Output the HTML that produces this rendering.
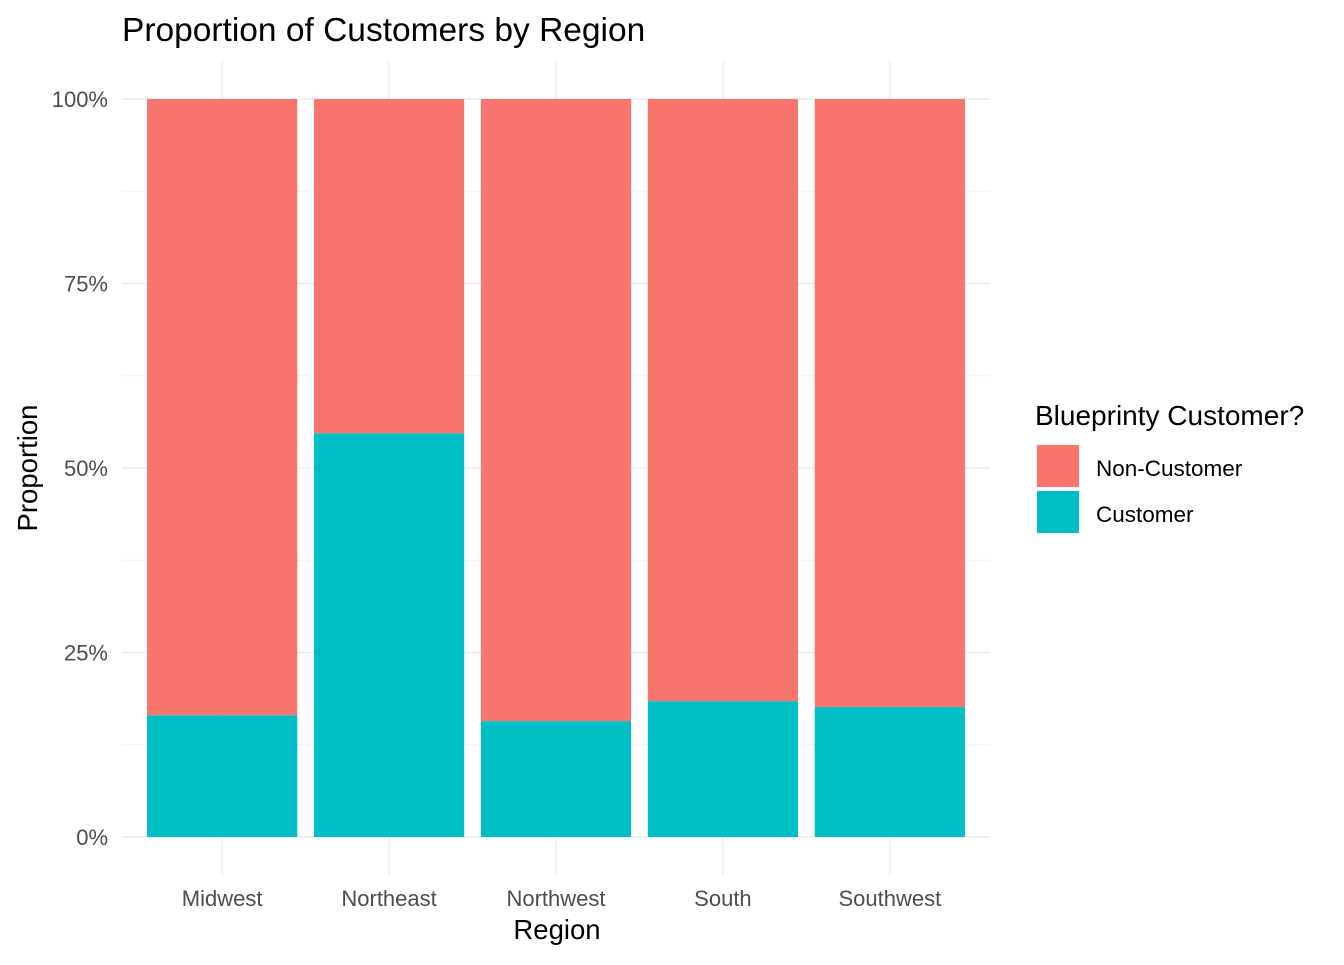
<!DOCTYPE html>
<html><head><meta charset="utf-8"><style>
body{margin:0;background:#fff;font-family:"Liberation Sans",Arial,sans-serif}
svg text{font-family:"Liberation Sans",Arial,sans-serif}
</style></head><body>
<svg id="chart" width="1344" height="960" xmlns="http://www.w3.org/2000/svg">
<text x="122" y="41" font-size="33.5" fill="#000">Proportion of Customers by Region</text>
<g id="grid"></g>
<g id="bars"></g>
<g id="yticks"></g>
<g id="xticks"></g>
<text x="557" y="939" font-size="27.5" text-anchor="middle" fill="#000">Region</text>
<text transform="translate(37,468) rotate(-90)" font-size="27.5" text-anchor="middle" fill="#000">Proportion</text>
<g>
<text x="1035" y="425" font-size="28" fill="#000">Blueprinty Customer?</text>
<rect x="1037" y="445" width="42" height="42" fill="#F8766D"/>
<text x="1096" y="476" font-size="22.5" fill="#000">Non-Customer</text>
<rect x="1037" y="491" width="42" height="42" fill="#00BFC4"/>
<text x="1096" y="522" font-size="22.5" fill="#000">Customer</text>
</g>
</svg>
<script>
const categories=["Midwest","Northeast","Northwest","South","Southwest"];
const customerShare=[0.165,0.547,0.157,0.184,0.176];
const yTickValues=[0,0.25,0.5,0.75,1];
const yTickLabels=["0%","25%","50%","75%","100%"];
const NS="http://www.w3.org/2000/svg";
const x0=122,x1=990,yTop=99,yBot=837;
const step=(x1-x0)/(categories.length-1+1.2);
const bw=step*0.9;
function xScale(i){return x0+step*(i+0.6);}
function yScale(v){return yBot-(yBot-yTop)*v;}
function mk(tag,attrs,parent){const e=document.createElementNS(NS,tag);for(const k in attrs)e.setAttribute(k,attrs[k]);parent.appendChild(e);return e;}
const grid=document.getElementById('grid');
for(let i=0;i<yTickValues.length;i++){
  const y=yScale(yTickValues[i]);
  const l=mk('line',{x1:x0,x2:x1,y1:y,y2:y,stroke:'#ebebeb','stroke-width':1.4},grid);
  
  
  if(i<yTickValues.length-1){
    const ym=yScale((yTickValues[i]+yTickValues[i+1])/2);
    const m=mk('line',{x1:x0,x2:x1,y1:ym,y2:ym,stroke:'#f3f3f3','stroke-width':1},grid);
    
    
  }
  const t=mk('text',{x:108,y:y+8,'font-size':22,'text-anchor':'end',fill:'#4d4d4d'},document.getElementById('yticks'));
  t.textContent=yTickLabels[i];
  
  
}
categories.forEach((c,i)=>{
  const cx=xScale(i);
  const g=mk('line',{x1:cx,x2:cx,y1:62,y2:875,stroke:'#ebebeb','stroke-width':1.4},grid);
  
  
  const bars=document.getElementById('bars');
  const yc=yScale(customerShare[i]);
  const r1=mk('rect',{x:cx-bw/2,y:yScale(1),width:bw,height:yc-yScale(1),fill:'#F8766D'},bars);
  
  
  const r2=mk('rect',{x:cx-bw/2,y:yc,width:bw,height:yBot-yc,fill:'#00BFC4'},bars);
  
  
  const t=mk('text',{x:cx,y:906,'font-size':22,'text-anchor':'middle',fill:'#4d4d4d'},document.getElementById('xticks'));
  t.textContent=c;
  
  
});
</script>
</body></html>
